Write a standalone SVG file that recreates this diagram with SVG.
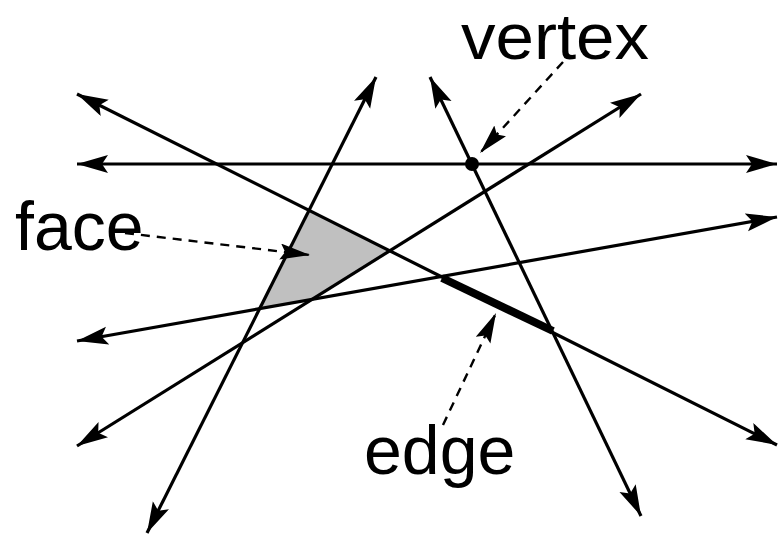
<svg xmlns="http://www.w3.org/2000/svg" width="778" height="534" viewBox="0 0 778 534">
<style>
.ln{stroke:#000;stroke-width:3.2;fill:none;marker-start:url(#ah);marker-end:url(#ah)}
.da{stroke:#000;stroke-width:2.4;fill:none;stroke-dasharray:9 7;marker-end:url(#dh)}
.lbl{font-family:"Liberation Sans",Arial,sans-serif;font-size:68px;fill:#000}
</style>
<defs>
<marker id="ah" markerUnits="userSpaceOnUse" markerWidth="32" markerHeight="20" refX="31" refY="9" orient="auto-start-reverse" viewBox="0 0 32 20">
<path d="M0,0 L31,9 L0,18 L6,9 z" fill="#000"/>
</marker>
<marker id="dh" markerUnits="userSpaceOnUse" markerWidth="32" markerHeight="18" refX="30" refY="8" orient="auto" viewBox="0 0 32 18">
<path d="M0,0 L30,8 L0,16 L5,8 z" fill="#000"/>
</marker>
</defs>
<rect width="778" height="534" fill="#fff"/>
<g id="face">
<polygon points="309,210 390,251 312,300 260,309" fill="#c0c0c0"/>
</g>
<g id="lines">
<line class="ln" x1="77" y1="164" x2="777" y2="164"/>
<line class="ln" x1="77" y1="94" x2="777" y2="445"/>
<line class="ln" x1="147" y1="533" x2="376" y2="77"/>
<line class="ln" x1="430" y1="77" x2="641" y2="516"/>
<line class="ln" x1="77" y1="446" x2="641" y2="94"/>
<line class="ln" x1="77" y1="341" x2="777" y2="217"/>
</g>
<g id="edge">
<line x1="442" y1="278" x2="553" y2="331" stroke="#000" stroke-width="8"/>
</g>
<g id="vertex">
<circle cx="472" cy="164" r="7" fill="#000"/>
</g>
<g id="labels">
<text id="label-vertex" class="lbl" x="461" y="59" style="font-size:65px" textLength="188" lengthAdjust="spacingAndGlyphs">vertex</text>
<text id="label-face" class="lbl" x="15" y="250">face</text>
<text id="label-edge" class="lbl" x="364" y="474">edge</text>
</g>
<g id="connectors">
<line class="da" x1="125" y1="233" x2="310" y2="255"/>
<line class="da" x1="563" y1="62" x2="480" y2="153"/>
<line class="da" x1="443" y1="425" x2="496" y2="313"/>
</g>
</svg>
